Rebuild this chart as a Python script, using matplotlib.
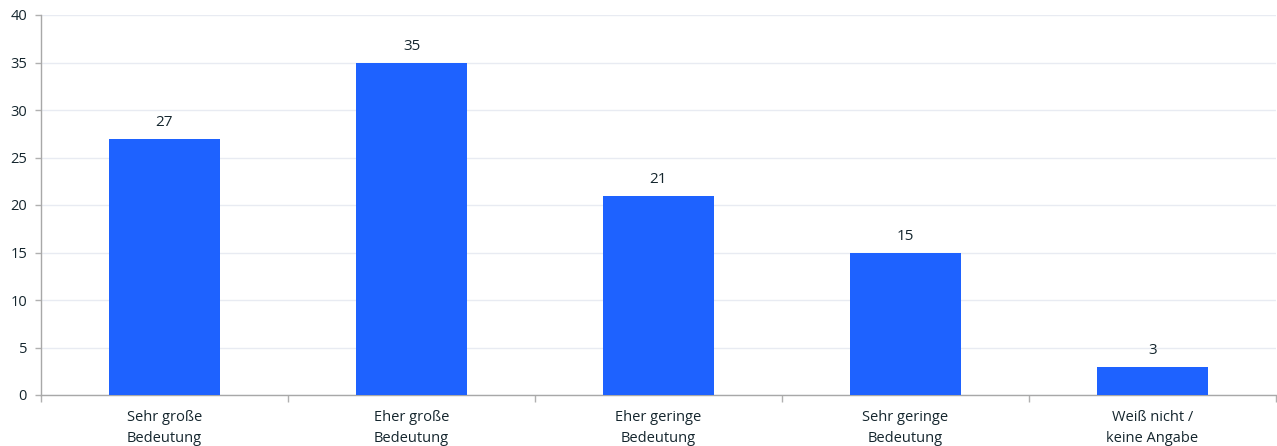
import matplotlib
matplotlib.use("Agg")
import matplotlib.pyplot as plt
import numpy as np

categories = ["Sehr große\nBedeutung", "Eher große\nBedeutung", "Eher geringe\nBedeutung",
              "Sehr geringe\nBedeutung", "Weiß nicht /\nkeine Angabe"]
values = [27, 35, 21, 15, 3]
yticks = [0, 5, 10, 15, 20, 25, 30, 35, 40]

plt.rcParams['font.family'] = ['Open Sans', 'DejaVu Sans']
text_color = "#15262e"

W, H = 1277, 446
fig = plt.figure(figsize=(W/100, H/100), dpi=100)
ax = fig.add_axes([41/W, 1 - 395/H, (1276-41)/W, (395-15)/H])

x = np.arange(len(categories))
bars = ax.bar(x, values, width=0.453, color="#1e62ff", zorder=3)
for xi, v in zip(x, values):
    ax.text(xi, v + 0.9, str(v), ha="center", va="bottom", fontsize=11, color=text_color)

ax.set_xlim(-0.5, len(categories) - 0.5)
ax.set_ylim(0, 40)
ax.set_yticks(yticks)
ax.set_yticklabels([str(t) for t in yticks], fontsize=10.5, color=text_color)
ax.yaxis.grid(True, color="#e8ebf2", linewidth=1, zorder=0)
ax.set_xticks(x)
ax.set_xticklabels(categories, fontsize=10.5, color=text_color, linespacing=1.55)
ax.tick_params(axis="x", which="major", length=0, pad=11)
ax.set_xticks(np.arange(-0.5, len(categories)), minor=True)
ax.tick_params(axis="x", which="minor", length=5, color="#b0b0b0", width=1)
ax.tick_params(axis="y", length=4, color="#b0b0b0", width=1, pad=6)

for s in ["top", "right"]:
    ax.spines[s].set_visible(False)
for s in ["left", "bottom"]:
    ax.spines[s].set_color("#a8a8a8")
    ax.spines[s].set_linewidth(1)

fig.savefig("out.png", dpi=100)
